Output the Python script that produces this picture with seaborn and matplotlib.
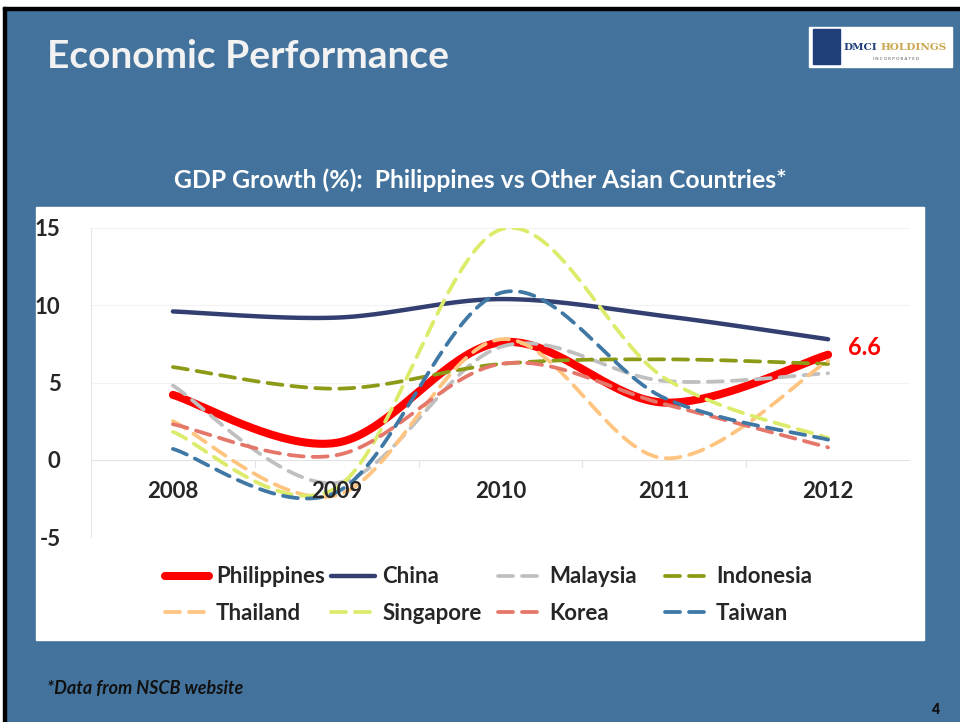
import numpy as np
import pandas as pd
import matplotlib
matplotlib.use("Agg")
import matplotlib.pyplot as plt
from matplotlib.patches import Rectangle
import seaborn as sns

# GDP growth (%)
years = ["2008", "2009", "2010", "2011", "2012"]
philippines = [4.2, 1.1, 7.6, 3.7, 6.8]
china = [9.6, 9.2, 10.4, 9.3, 7.8]
malaysia = [4.8, -1.5, 7.3, 5.1, 5.6]
indonesia = [6.0, 4.6, 6.2, 6.5, 6.2]
thailand = [2.5, -2.3, 7.8, 0.1, 6.4]
singapore = [1.8, -1.8, 14.9, 5.3, 1.4]
korea = [2.3, 0.3, 6.2, 3.6, 0.8]
taiwan = [0.7, -2.1, 10.8, 4.0, 1.3]
label_text = "6.6"

series = {
    "Philippines": philippines, "China": china, "Malaysia": malaysia,
    "Indonesia": indonesia, "Thailand": thailand, "Singapore": singapore,
    "Korea": korea, "Taiwan": taiwan,
}
colors = {
    "Philippines": "#FF0000", "China": "#333F70", "Malaysia": "#BFBFBF",
    "Indonesia": "#8C9A16", "Thailand": "#FFC47F", "Singapore": "#DDEB6A",
    "Korea": "#E4766A", "Taiwan": "#3F78A4",
}
dash = (0, (4, 2.4))
styles = {k: dash for k in series}
styles["Philippines"] = "-"
styles["China"] = "-"
widths = {k: 2.7 for k in series}
widths["Philippines"] = 5.8
widths["China"] = 3.2

BG = "#43739C"
DARK = "#262626"


def smooth(yv, n=40):
    # Catmull-Rom style bezier through the points (like Excel's smoothed line)
    xv = np.arange(len(yv), dtype=float)
    pts = np.column_stack([xv, np.asarray(yv, float)])
    p = np.vstack([pts[0], pts, pts[-1]])
    out = []
    t = np.linspace(0, 1, n)[:, None]
    for i in range(len(pts) - 1):
        p0, p1, p2, p3 = p[i], p[i + 1], p[i + 2], p[i + 3]
        c1 = p1 + (p2 - p0) / 6
        c2 = p2 - (p3 - p1) / 6
        seg = ((1 - t) ** 3) * p1 + 3 * ((1 - t) ** 2) * t * c1 + 3 * (1 - t) * t ** 2 * c2 + t ** 3 * p2
        out.append(seg if i == 0 else seg[1:])
    out = np.vstack(out)
    return out[:, 0], out[:, 1]


sns.set_theme(style="white")
plt.rcParams["font.family"] = ["Lato", "DejaVu Sans"]

fig = plt.figure(figsize=(9.6, 7.22), dpi=100, facecolor=BG)

# slide border lines (left / top)
fig.patches.append(Rectangle((0, 0), 4 / 960, 1, transform=fig.transFigure, color="white", zorder=0))
fig.patches.append(Rectangle((3 / 960, 0), 2.5 / 960, 1 - 7 / 722, transform=fig.transFigure, color="black", zorder=1))
fig.patches.append(Rectangle((0, 1 - 7 / 722), 1, 7 / 722, transform=fig.transFigure, color="white", zorder=0))
fig.patches.append(Rectangle((3 / 960, 1 - 9.5 / 722), 1, 2.5 / 722, transform=fig.transFigure, color="black", zorder=1))

# white chart area
fig.patches.append(Rectangle((36 / 960, 1 - 640 / 722), (924 - 36) / 960, (640 - 207) / 722,
                             transform=fig.transFigure, color="white", zorder=1))

# logo box
fig.patches.append(Rectangle((809 / 960, 1 - 67 / 722), 143 / 960, 40 / 722,
                             transform=fig.transFigure, color="white", zorder=1))
fig.patches.append(Rectangle((813 / 960, 1 - 64 / 722), 27 / 960, 35 / 722,
                             transform=fig.transFigure, color="#1F3E7A", zorder=2))
fig.text(843 / 960, 1 - 48 / 722, "DMCI", color="#1F3E7A", fontsize=7.5, fontweight="bold",
         family="DejaVu Serif", va="center", ha="left", zorder=3)
fig.text(880 / 960, 1 - 48 / 722, "HOLDINGS", color="#C9A64E", fontsize=7.5, fontweight="bold",
         family="DejaVu Serif", va="center", ha="left", zorder=3)
fig.text(896 / 960, 1 - 59 / 722, "I N C O R P O R A T E D", color="#555555", fontsize=3.2,
         va="center", ha="center", zorder=3)

fig.text(47 / 960, 1 - 56 / 722, "Economic Performance", color="#F2F2F2", fontsize=28,
         fontweight="bold", va="center", ha="left")
fig.text(480 / 960, 1 - 180 / 722, "GDP Growth (%):  Philippines vs Other Asian Countries*",
         color="white", fontsize=17.8, fontweight="bold", va="center", ha="center")
fig.text(47 / 960, 1 - 689 / 722, "*Data from NSCB website", color="#111111", fontsize=13,
         fontweight="bold", style="italic", va="center", ha="left")
fig.text(936 / 960, 1 - 709 / 722, "4", color="#111111", fontsize=10, fontweight="heavy",
         va="center", ha="center")

ax = fig.add_axes([91 / 960, 1 - 537 / 722, (910 - 91) / 960, (537 - 228) / 722], zorder=5)
ax.set_facecolor("none")

for name, vals in series.items():
    sx, sy = smooth(vals)
    sns.lineplot(x=sx, y=sy, ax=ax, color=colors[name], linewidth=widths[name],
                 linestyle=styles[name], sort=False, estimator=None, label=name,
                 solid_capstyle="round", dash_capstyle="round", legend=False)

ax.set_xlim(-0.5, len(years) - 0.5)
ax.set_ylim(-5, 15)
ax.set_yticks([-5, 0, 5, 10, 15])
ax.set_yticklabels(["-5", "0", "5", "10", "15"], fontsize=16, fontweight="bold", color=DARK)
ax.tick_params(axis="y", length=0, pad=22)
ax.set_xticks([])
for yv in [-5, 5, 10, 15]:
    ax.axhline(yv, color="#F2F2F2", lw=0.8, zorder=0)
ax.axhline(0, color="#E3E3E3", lw=0.8, zorder=0)
for i in range(len(years)):
    ax.plot([i + 0.5, i + 0.5], [0, -0.45], color="#E3E3E3", lw=0.8, zorder=0)
    ax.text(i, -1.4, years[i], ha="center", va="top", fontsize=16, fontweight="bold", color=DARK)
for s in ["top", "right", "bottom"]:
    ax.spines[s].set_visible(False)
ax.spines["left"].set_color("#E8E8E8")
ax.spines["left"].set_linewidth(0.8)

ax.text(len(years) - 1 + 0.12, philippines[-1] + 0.45, label_text, color="#FF0000", fontsize=17,
        fontweight="bold", ha="left", va="center")

# legend laid out row by row, one small legend per column
handles, labels = ax.get_legend_handles_labels()
col_x = [165, 331, 498, 665]
for c in range(4):
    leg = fig.legend([handles[c], handles[c + 4]], [labels[c], labels[c + 4]],
                     loc="center left", bbox_to_anchor=(col_x[c] / 960, 1 - 595 / 722),
                     frameon=False, prop={"size": 16, "weight": "bold"}, labelcolor=DARK,
                     handlelength=2.0, handletextpad=0.3, labelspacing=0.68,
                     borderpad=0, borderaxespad=0)

fig.savefig("out.png", dpi=100, facecolor=BG)
